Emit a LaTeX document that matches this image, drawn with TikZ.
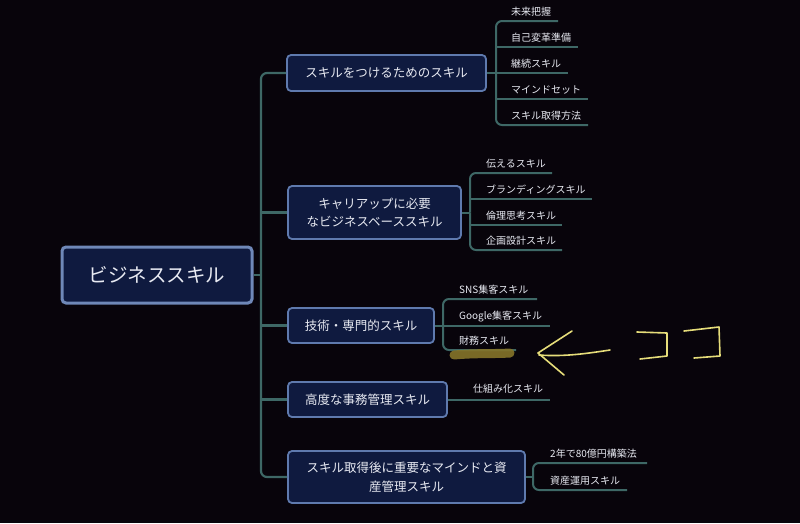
\documentclass[tikz,border=0pt]{standalone}
\usepackage{fontspec}
\setmainfont{Noto Sans CJK JP}
\definecolor{bg}{HTML}{08040B}
\definecolor{boxfill}{HTML}{0F1A3F}
\definecolor{rootborder}{HTML}{6F88B8}
\definecolor{boxborder}{HTML}{5F7AAE}
\definecolor{conn}{HTML}{3E6866}
\definecolor{txt}{HTML}{E8EAF2}
\definecolor{marker}{HTML}{86752A}
\definecolor{pen}{HTML}{E6DD7A}
\tikzset{
  rootbox/.style={draw=rootborder, line width=3pt, fill=boxfill, rounded corners=4pt,
    minimum width=190pt, minimum height=56pt, inner sep=0pt, text=txt,
    font=\fontsize{19.5}{22}\selectfont},
  branchbox/.style={draw=boxborder, line width=1.8pt, fill=boxfill, rounded corners=4pt,
    inner sep=0pt, text=txt, align=center, font=\fontsize{12.5}{18.5}\selectfont},
  leaf/.style={anchor=base west, inner sep=0pt, text=txt, font=\fontsize{10}{12}\selectfont},
  link/.style={draw=conn, line width=2.2pt},
  leaflink/.style={draw=conn, line width=2pt},
  penline/.style={draw=pen, line width=1.6pt, line cap=round, line join=round},
}
\begin{document}
\begin{tikzpicture}[x=1pt,y=-1pt]
\fill[bg] (0,0) rectangle (800,523);
\useasboundingbox (0,0) rectangle (800,523);

% trunk coordinate
\coordinate (tr) at (261,275);

% root and branches
\node[rootbox] (root) at (157,275) {ビジネススキル};
\node[branchbox, minimum width=199pt, minimum height=36pt] (b1) at (386.5,73) {スキルをつけるためのスキル};
\node[branchbox, minimum width=173pt, minimum height=53pt] (b2) at (374.5,212.5) {キャリアップに必要\\なビジネスベーススキル};
\node[branchbox, minimum width=146pt, minimum height=35pt] (b3) at (361,325.5) {技術・専門的スキル};
\node[branchbox, minimum width=159pt, minimum height=35pt] (b4) at (367.5,399.5) {高度な事務管理スキル};
\node[branchbox, minimum width=237pt, minimum height=52pt] (b5) at (406.5,477) {スキル取得後に重要なマインドと資\\産管理スキル};

% trunk
\draw[link] (root.east) -- (tr);
\draw[link, rounded corners=6pt] (tr) |- (b1.west);
\draw[link, rounded corners=6pt] (tr) |- (b5.west);
\draw[link] (tr |- b2.west) -- (b2.west);
\draw[link] (tr |- b3.west) -- (b3.west);
\draw[link] (tr |- b4.west) -- (b4.west);

% branch 1 leaves
\coordinate (v1) at (496,73);
\coordinate (e11) at (558,21);
\coordinate (e12) at (578,47);
\coordinate (e13) at (568,73);
\coordinate (e14) at (588,99);
\coordinate (e15) at (588,125);
\draw[leaflink] (b1.east) -- (e13);
\draw[leaflink, rounded corners=6pt] (v1) |- (e11);
\draw[leaflink, rounded corners=6pt] (v1) |- (e15);
\draw[leaflink] (v1 |- e12) -- (e12);
\draw[leaflink] (v1 |- e14) -- (e14);
\node[leaf] (c11) at (511,15) {未来把握};
\node[leaf] (c12) at (511,41) {自己変革準備};
\node[leaf] (c13) at (511,67) {継続スキル};
\node[leaf] (c14) at (511,93) {マインドセット};
\node[leaf] (c15) at (511,119) {スキル取得方法};

% branch 2 leaves
\coordinate (v2) at (470,212.5);
\coordinate (e21) at (552,173);
\coordinate (e22) at (592,199);
\coordinate (e23) at (562,225);
\coordinate (e24) at (562,250);
\draw[leaflink] (b2.east) -- (v2);
\draw[leaflink, rounded corners=6pt] (v2) |- (e21);
\draw[leaflink, rounded corners=6pt] (v2) |- (e24);
\draw[leaflink] (v2 |- e22) -- (e22);
\draw[leaflink] (v2 |- e23) -- (e23);
\node[leaf] (c21) at (486,167) {伝えるスキル};
\node[leaf] (c22) at (486,193) {ブランディングスキル};
\node[leaf] (c23) at (486,219) {倫理思考スキル};
\node[leaf] (c24) at (486,244) {企画設計スキル};

% branch 3 leaves
\coordinate (v3) at (443,325.5);
\coordinate (e31) at (537,299);
\coordinate (e32) at (550,325.5);
\coordinate (e33) at (516,350);
\draw[leaflink] (b3.east) -- (e32);
\draw[leaflink, rounded corners=6pt] (v3) |- (e31);
\draw[leaflink, rounded corners=6pt] (v3) |- (e33);
\node[leaf] (c31) at (459,293) {SNS集客スキル};
\node[leaf] (c32) at (459,319) {Google集客スキル};
\node[leaf] (c33) at (459,344) {財務スキル};

% branch 4 leaf
\coordinate (e41) at (550,399.5);
\draw[leaflink] (b4.east) -- (e41);
\node[leaf] (c41) at (473,392) {仕組み化スキル};

% branch 5 leaves
\coordinate (v5) at (533,477);
\coordinate (e51) at (647,463);
\coordinate (e52) at (627,490);
\draw[leaflink] (b5.east) -- (v5);
\draw[leaflink, rounded corners=6pt] (v5) |- (e51);
\draw[leaflink, rounded corners=6pt] (v5) |- (e52);
\node[leaf] (c51) at (550,457) {2年で80億円構築法};
\node[leaf] (c52) at (550,484) {資産運用スキル};

% hand-drawn marks
\draw[marker, opacity=0.9, line width=9pt, line cap=round]
  (454,355) .. controls (475,353) and (495,354) .. (510,353);
\draw[penline] (572,331) -- (538,353) -- (564,375);
\draw[penline] (539,355) .. controls (565,357) and (590,353) .. (610,350);
\draw[penline] (637,332) -- (667,333) -- (667,356) -- (640,359);
\draw[penline] (684,331) -- (719,327) -- (720,356) -- (694,358);
\end{tikzpicture}
\end{document}
